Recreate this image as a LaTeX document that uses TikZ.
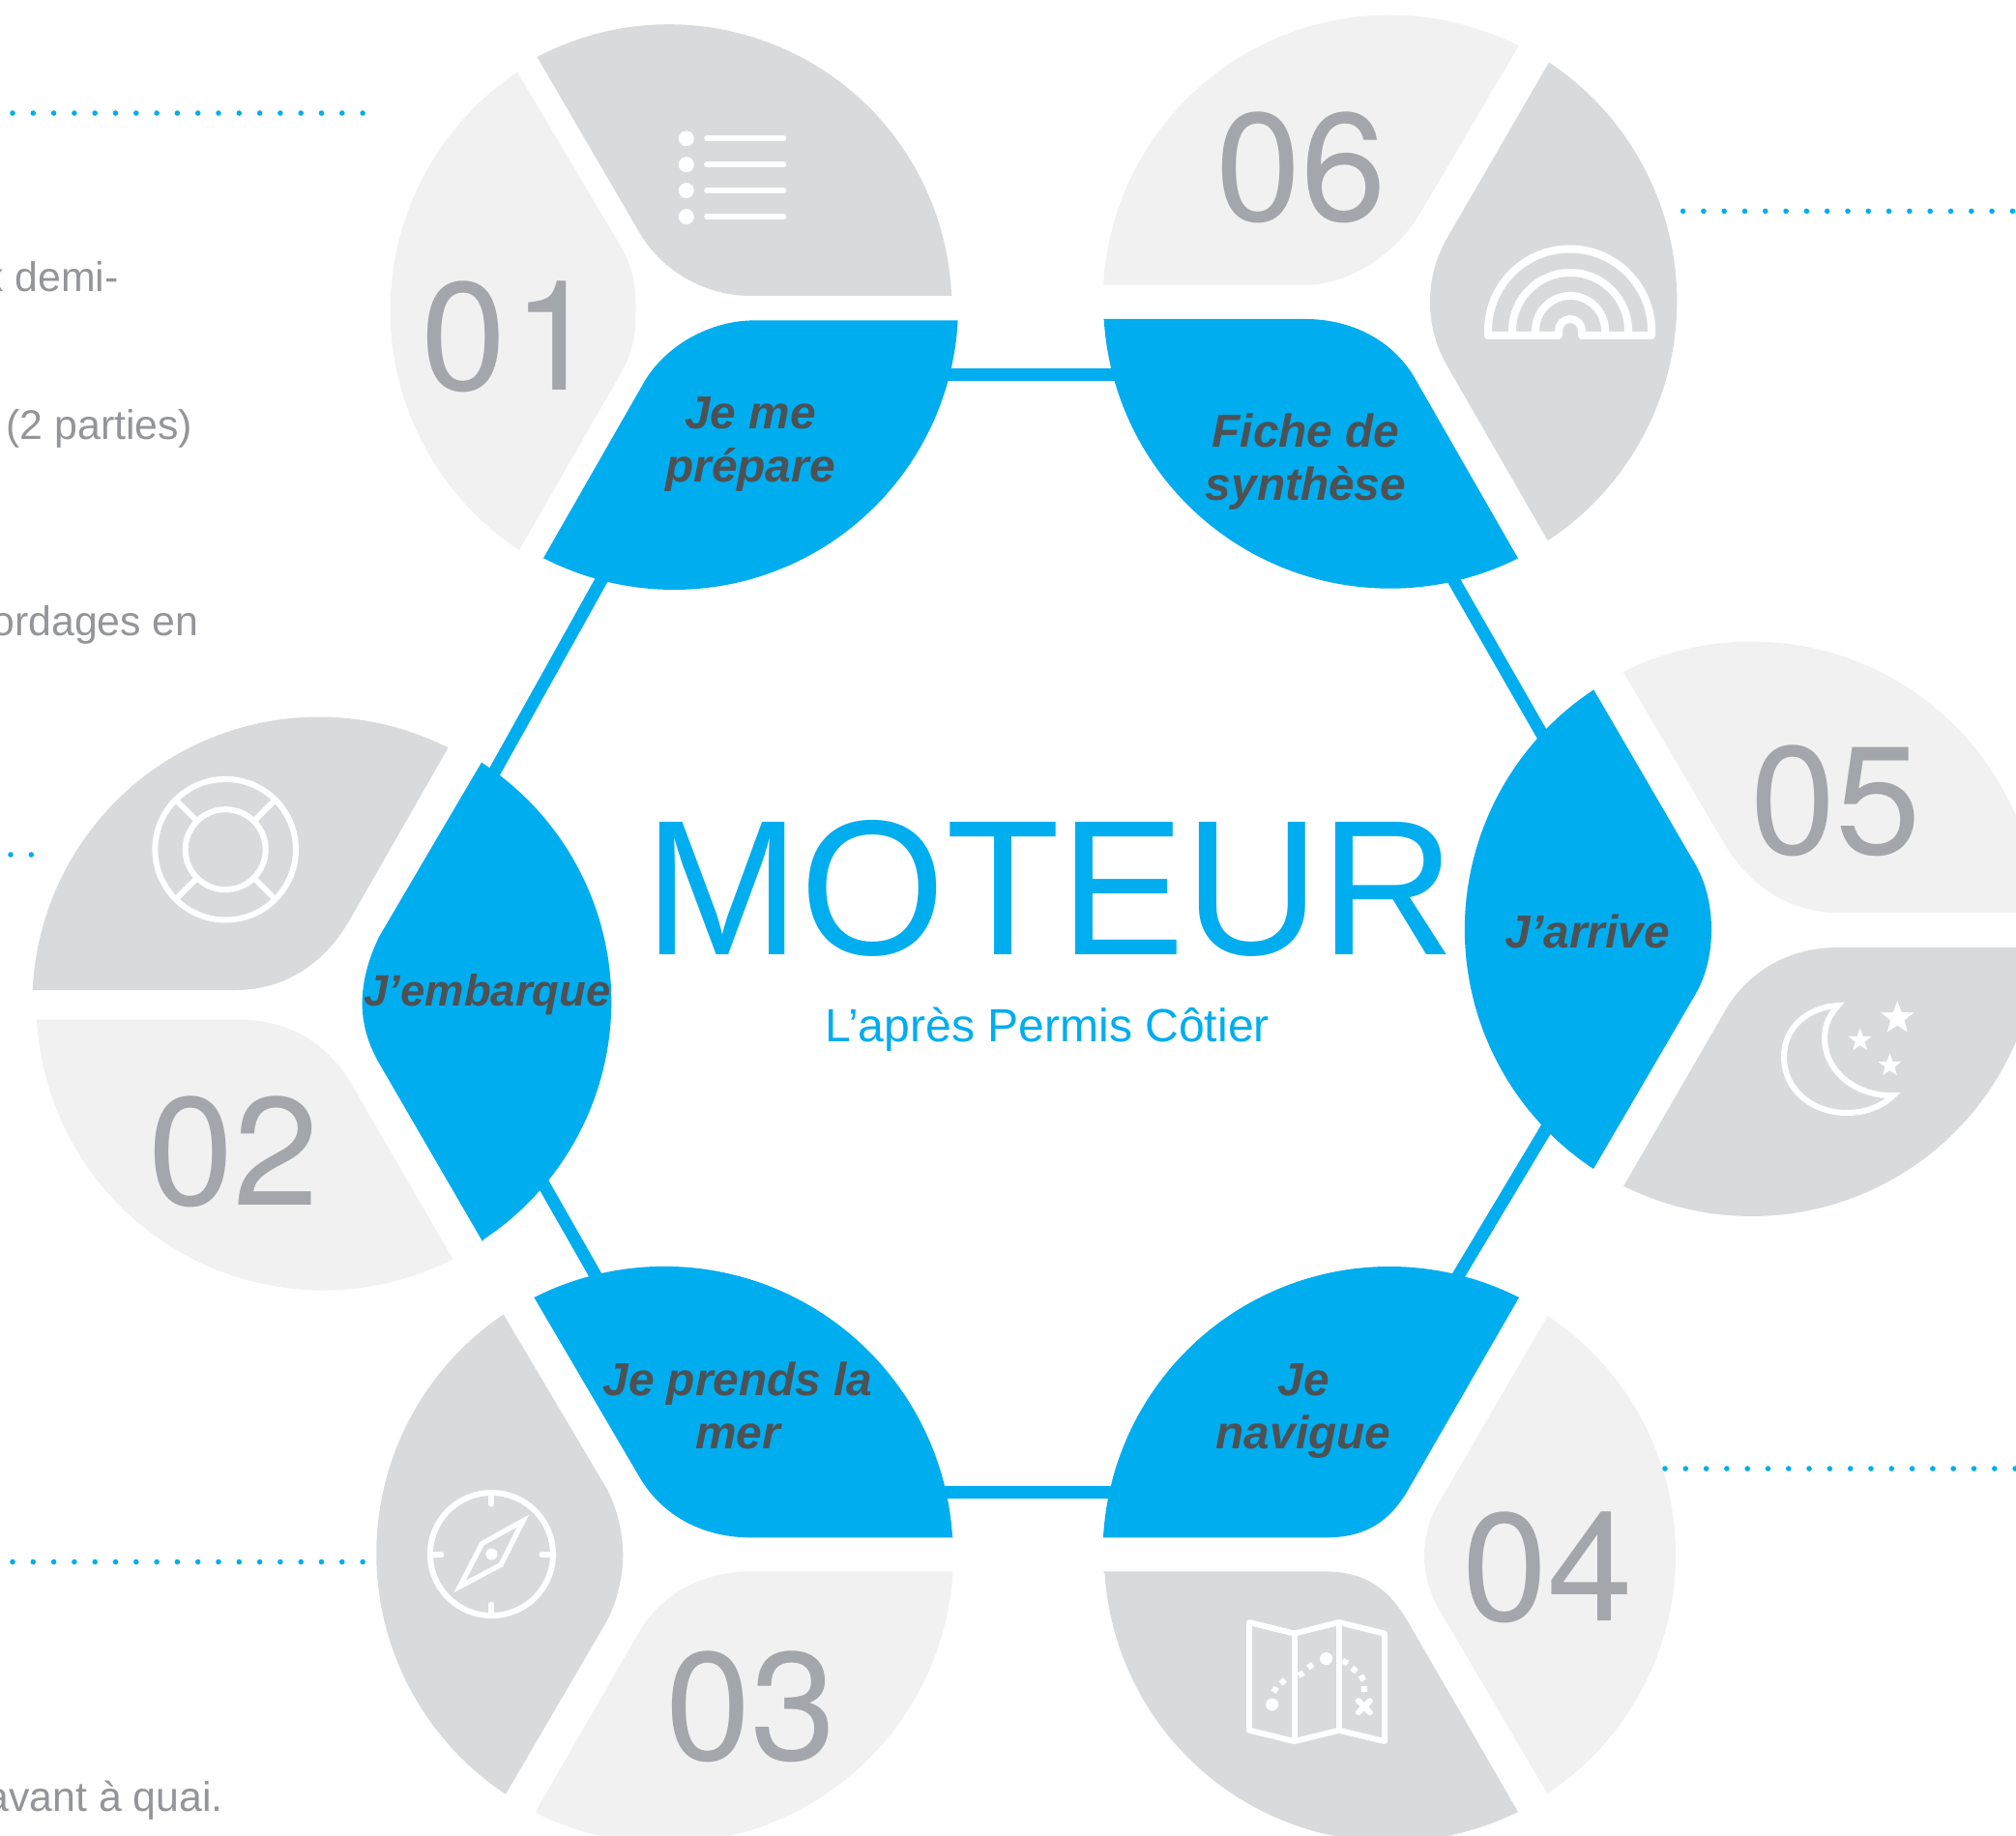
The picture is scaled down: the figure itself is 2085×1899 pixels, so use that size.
\documentclass[tikz,border=0pt]{standalone}
\usepackage{graphicx}
\usepackage{fontspec}
\setmainfont{Liberation Sans}
\newfontfamily\numfont{TeX Gyre Heros}
\usetikzlibrary{shapes.geometric}
\definecolor{bluemain}{HTML}{00ADEF}
\definecolor{darkblade}{HTML}{D9DADC}
\definecolor{liteblade}{HTML}{F1F1F2}
\definecolor{numgrey}{HTML}{A3A6AA}
\definecolor{labelgrey}{HTML}{4D5154}
\definecolor{bodygrey}{HTML}{939598}
\newcommand{\blade}[9]{%
  \pgfmathsetmacro\bladeA{atan2(#6-#3,#5-#2)}%
  \pgfmathsetmacro\bladeB{atan2(#8-#3,#7-#2)}%
  \pgfmathsetmacro\bladeB{\bladeB<\bladeA ? \bladeB+360 : \bladeB}%
  \fill[#1] (#5,#6) arc[start angle=\bladeA,end angle=\bladeB,radius=#4] -- (#7,#8) #9 -- cycle;
}
\tikzset{
  hexline/.style={draw=bluemain,line width=6.5pt},
  leader/.style={draw=bluemain,line width=2.8pt,line cap=round,dash pattern=on 0pt off 10.65pt},
  numstyle/.style={font=\numfont\fontsize{79.5}{80}\selectfont,text=numgrey,inner sep=0pt,anchor=base west},
  bladetext/.style={font=\fontsize{23.9}{27.5}\bfseries\itshape\selectfont,text=labelgrey,inner sep=0pt,anchor=base,align=center},
  sidetext/.style={font=\fontsize{21.4}{24}\selectfont,text=bodygrey,inner sep=0pt,anchor=base east},
  iconline/.style={draw=white,line width=3pt,line cap=round,line join=round},
  sharpline/.style={draw=white,line width=3pt,line join=miter},
  starmark/.style={star,star points=5,star point ratio=2.4,fill=white,inner sep=0pt,minimum size=#1}
}
\begin{document}
\begin{tikzpicture}[x=0.5pt,y=-0.5pt]
\useasboundingbox (0,0) rectangle (2085,1899);
\clip (0,0) rectangle (2085,1899);
% hexagon connectors
\coordinate (a1) at (950,388);    \coordinate (a6) at (1170,388);
\coordinate (b1) at (677.7,500);  \coordinate (b2) at (493.8,830);
\coordinate (c2) at (548,1200);   \coordinate (c3) at (650.6,1380);
\coordinate (d3) at (950,1543.5); \coordinate (d4) at (1170,1543.5);
\coordinate (e4) at (1460,1400);  \coordinate (e5) at (1621.6,1130);
\coordinate (f5) at (1618,800);   \coordinate (f6) at (1446,500);
\draw[hexline] (a1) -- (a6);
\draw[hexline] (b1) -- (b2);
\draw[hexline] (c2) -- (c3);
\draw[hexline] (d3) -- (d4);
\draw[hexline] (e4) -- (e5);
\draw[hexline] (f5) -- (f6);
% circle 1
\blade{darkblade}{692.5}{319}{292.5}{555.5}{59}{985}{306}{-- (776,306) .. controls (730,306) and (685,281) .. (661.6,241)}
\blade{liteblade}{700}{322}{297}{537}{569}{535}{74.7}{-- (641,253) .. controls (657,280) and (657.5,300) .. (657.5,320) .. controls (657.5,340) and (657,361) .. (641,388)}
\blade{bluemain}{697}{316}{294}{990.6}{331.4}{561}{579}{-- (665.7,396) .. controls (688,357) and (735,331.4) .. (780,331.4)}
% circle 6
\blade{liteblade}{1437.5}{312}{296.5}{1141}{294.7}{1571}{47}{-- (1469,220) .. controls (1446,260) and (1398,294.7) .. (1350,294.7)}
\blade{darkblade}{1437.5}{312}{296.5}{1602}{64.5}{1600.6}{559}{-- (1495,375.5) .. controls (1484,355) and (1479,335) .. (1479,312) .. controls (1479,290) and (1484,270) .. (1495,249)}
\blade{bluemain}{1437.5}{312}{296.5}{1570}{577.5}{1141}{330}{-- (1350,330) .. controls (1398,330) and (1440,352) .. (1462.6,390)}
% circle 5
\blade{bluemain}{1812}{961}{297}{1648}{1209}{1648}{713}{-- (1754,895) .. controls (1765,915) and (1770,938) .. (1770,962) .. controls (1770,985) and (1765,1008) .. (1754,1027.5)}
\blade{liteblade}{1812}{961}{297}{1678.7}{695}{2108}{944}{-- (1900.5,944) .. controls (1850,944) and (1808,915) .. (1783,872)}
\blade{darkblade}{1812}{961}{297}{2108}{980}{1678.7}{1227.6}{-- (1785,1044) .. controls (1808,1005) and (1850,980) .. (1900,980)}
% circle 4
\blade{bluemain}{1437.5}{1606.5}{296.5}{1141}{1590.3}{1571}{1342}{-- (1456.5,1540.6) .. controls (1436,1576) and (1410,1590.3) .. (1371,1590.3)}
\blade{darkblade}{1437.5}{1606.5}{296.5}{1570}{1874}{1141}{1625.4}{-- (1371,1625.4) .. controls (1410,1625.4) and (1436,1642) .. (1456.5,1678)}
\blade{liteblade}{1437.5}{1606.5}{296.5}{1600.6}{1361}{1600.6}{1855.8}{-- (1485,1659) .. controls (1477,1642) and (1473,1626) .. (1473,1609.4) .. controls (1473,1592) and (1477,1576) .. (1485,1559.7)}
% circle 3
\blade{bluemain}{687}{1608}{298.5}{552.4}{1342}{985.5}{1590.3}{-- (776,1590.3) .. controls (730,1590.3) and (685,1570) .. (660,1525.4)}
\blade{liteblade}{687}{1608}{298.5}{985.5}{1625.4}{553.7}{1874}{-- (660,1689.6) .. controls (685,1646) and (730,1625.4) .. (776,1625.4)}
\blade{darkblade}{687}{1608}{298.5}{523}{1855.8}{521}{1360}{-- (628,1540.6) .. controls (638,1560) and (644.3,1585) .. (644.3,1608.6) .. controls (644.3,1632) and (638,1656) .. (628,1676)}
% circle 2
\blade{darkblade}{330}{1038}{296.5}{33.7}{1024}{463}{774.3}{-- (361,952.6) .. controls (336,996) and (295,1024) .. (244,1024)}
\blade{liteblade}{334}{1038}{296.5}{468.4}{1302.4}{38}{1054.7}{-- (248,1054.7) .. controls (298,1054.7) and (338,1078) .. (364,1122)}
\blade{bluemain}{336}{1038}{295}{498}{788.6}{499}{1284}{-- (392,1099.6) .. controls (381,1080) and (374.6,1060) .. (374.6,1038) .. controls (374.6,1015) and (381,992) .. (392,969)}
% dotted leaders
\coordinate (l1a) at (13,117);     \coordinate (l1b) at (377,117);
\coordinate (l2a) at (11,884);     \coordinate (l2b) at (34,884);
\coordinate (l3a) at (13,1615.5);  \coordinate (l3b) at (377,1615.5);
\coordinate (l4a) at (1722,1519);  \coordinate (l4b) at (2085,1519);
\coordinate (l6a) at (1740.6,218.4); \coordinate (l6b) at (2085,218.4);
\draw[leader] (l1a) -- (l1b);
\draw[leader] (l2a) -- (l2b);
\draw[leader] (l3a) -- (l3b);
\draw[leader] (l4a) -- (l4b);
\draw[leader] (l6a) -- (l6b);
% centre
\node[font=\fontsize{96.7}{97}\selectfont,text=bluemain,inner sep=0pt,anchor=base] (title) at (1085.7,987) {\scalebox{1}[1.03]{MOTEUR}};
\node[font=\fontsize{24.05}{25}\selectfont,text=bluemain,inner sep=0pt,anchor=base] (subtitle) at (1083,1077.7) {L’après Permis Côtier};
% numbers
\node[numstyle] (n1) at (435,404) {0\kern3.3pt 1};
\node[numstyle] (n2) at (153,1246.5) {02};
\node[numstyle] (n3) at (688,1820) {03};
\node[numstyle] (n4) at (1512,1676) {04};
\node[numstyle] (n5) at (1809.6,883) {05};
\node[numstyle] (n6) at (1257,228.6) {06};
% blade labels (a two-line node sits on its last baseline)
\node[bladetext] (t1) at (776,499) {Je me\\prépare};
\node[bladetext,font=\fontsize{22.7}{27.5}\bfseries\itshape\selectfont] (t2) at (504,1040) {J’embarque};
\node[bladetext] (t3) at (763,1498) {Je prends la\\mer};
\node[bladetext] (t4) at (1348,1498) {Je\\navigue};
\node[bladetext] (t5) at (1641.6,980.6) {J’arrive};
\node[bladetext] (t6) at (1350.5,518) {Fiche de\\synthèse};
% left text
\node[sidetext] (s1) at (123,301.5) {x demi-};
\node[sidetext] (s2) at (199.7,455) {(2 parties)};
\node[sidetext] (s3) at (206,658) {ordages en};
\node[sidetext] (s4) at (231,1873.5) {avant à quai.};
% list icon
\foreach \yy in {143.3,170.2,197.1,224.1}{
  \fill[white] (709.8,\yy) circle[radius=8];
  \draw[iconline,line width=2.8pt] (731,\yy) -- (810.5,\yy);
}
% rainbow icon
\begin{scope}[iconline/.append style={line width=4pt}]
\draw[iconline] (1539,347) -- (1539,342) arc[start angle=180,end angle=360,radius=84.5] -- (1708,347) -- (1636,347) -- (1636,342) arc[start angle=360,end angle=180,radius=12] -- (1612,347) -- cycle;
\draw[iconline] (1564,347) -- (1564,342) arc[start angle=180,end angle=360,radius=60] -- (1684,347);
\draw[iconline] (1588,347) -- (1588,342) arc[start angle=180,end angle=360,radius=36] -- (1660,347);
\end{scope}
% moon icon
\draw[sharpline] (1901,1040) .. controls (1868,1042) and (1845,1064) .. (1845,1093) .. controls (1845,1128) and (1875,1151) .. (1910,1151) .. controls (1930,1151) and (1947,1144) .. (1958,1133) .. controls (1921,1134) and (1888,1110) .. (1887,1074.5) .. controls (1887,1060) and (1892,1050) .. (1901,1040) -- cycle;
\node[starmark=18pt] (star1) at (1962.3,1053) {};
\node[starmark=12.5pt] (star2) at (1923.7,1076) {};
\node[starmark=12.5pt] (star3) at (1954.5,1102) {};
% map icon
\draw[iconline] (1292,1678) -- (1338.6,1689.6) -- (1385,1678) -- (1432,1689.6) -- (1432,1801) -- (1385,1789.7) -- (1338.6,1801) -- (1292,1789.7) -- cycle;
\draw[iconline] (1338.6,1689.6) -- (1338.6,1801);
\draw[iconline] (1385,1678) -- (1385,1789.7);
\fill[white] (1315.7,1763) circle[radius=6.5];
\fill[white] (1371.6,1715.6) circle[radius=6.5];
\foreach \xx/\yy/\aa in {1318.6/1747.7/-60,1326.7/1739.3/-45,1345.5/1731.6/-30,1355.3/1723.2/-35,1391.2/1719/30,1400.6/1727/40,1408.8/1735.5/60,1410.8/1747/85}{
  \draw[draw=white,line width=3pt] ([shift={(\xx,\yy)}]\aa:3) -- ([shift={(\xx,\yy)}]\aa+180:3);
}
\draw[iconline] (1404.8,1759.2) -- (1416.8,1771.2);
\draw[iconline] (1416.8,1759.2) -- (1404.8,1771.2);
% compass icon
\draw[iconline] (508.4,1607.5) circle[radius=63.5];
\foreach \aa in {0,90,180,270}{
  \draw[iconline] ([shift={(508.4,1607.5)}]\aa:63) -- ([shift={(508.4,1607.5)}]\aa:52);
}
\draw[sharpline,line width=2.6pt] (541,1573) -- (518,1618.5) -- (475.5,1641) -- (498.6,1596.5) -- cycle;
\fill[white] (508.4,1607.5) circle[radius=6];
% lifebuoy icon
\draw[iconline] (233.2,878.7) circle[radius=72.8];
\draw[iconline] (233.2,878.7) circle[radius=41.5];
\foreach \aa in {45,135,225,315}{
  \draw[iconline,line cap=butt] ([shift={(233.2,878.7)}]\aa:41.5) -- ([shift={(233.2,878.7)}]\aa:72.8);
}
\end{tikzpicture}
\end{document}
